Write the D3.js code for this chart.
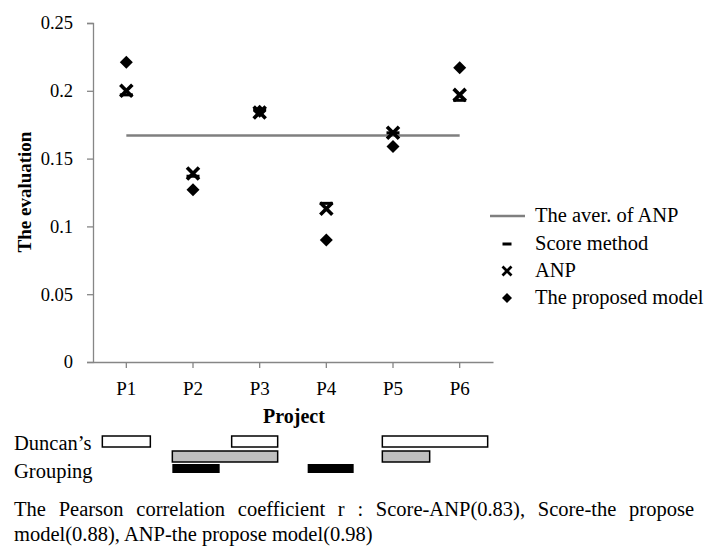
<!DOCTYPE html>
<html><head><meta charset="utf-8">
<script src="https://cdn.jsdelivr.net/npm/d3@7"></script>
<style>
body{margin:0;background:#fff}
text{font-family:"Liberation Serif","Times New Roman",serif;fill:#000}
</style></head>
<body><svg id="c" width="704" height="546"></svg>
<script>
const categories = ["P1","P2","P3","P4","P5","P6"];
const scoreMethod = [0.197, 0.137, 0.186, 0.117, 0.169, 0.193];
const anp = [0.200, 0.139, 0.184, 0.113, 0.169, 0.197];
const proposedModel = [0.221, 0.127, 0.185, 0.090, 0.159, 0.217];
const anpAverage = 0.167;
const yTicks = [0, 0.05, 0.1, 0.15, 0.2, 0.25];
const legendLabels = ["The aver. of ANP","Score method","ANP","The proposed model"];
// Duncan's grouping bars: [from, to] in category-index units
const groupWhite = [[-0.36,0.36],[1.58,2.27],[3.84,5.42]];
const groupGray = [[0.69,2.27],[3.84,4.55]];
const groupBlack = [[0.69,1.40],[2.72,3.41]];
const noteLine1 = "The Pearson correlation coefficient r : Score-ANP(0.83), Score-the propose";
const noteLine2 = "model(0.88), ANP-the propose model(0.98)";

const svg = d3.select("#c");
const L = 93, R = 493, T = 23, B = 362;
const x = d3.scaleBand().domain(categories).range([L, R]).padding(0);
const cx = c => x(c) + x.bandwidth()/2;
const y = d3.scaleLinear().domain([0, 0.25]).range([B, T]);
const axisColor = "#868686";

// y axis
const ya = svg.append("g").attr("transform",`translate(${L},0)`)
  .call(d3.axisLeft(y).tickValues(yTicks).tickSize(6).tickPadding(14).tickFormat(d => d3.format("")(+d.toFixed(2))));
ya.select(".domain").attr("stroke",axisColor).attr("stroke-width",1.3);
ya.selectAll(".tick line").attr("stroke",axisColor).attr("stroke-width",1.3);
ya.selectAll(".tick text").style("font-size","18.5px").style("font-family","Liberation Serif").attr("fill","#000");

// x axis
const xa = svg.append("g").attr("transform",`translate(0,${B})`)
  .call(d3.axisBottom(x).tickSize(6).tickSizeOuter(0).tickPadding(14));
xa.select(".domain").attr("stroke",axisColor).attr("stroke-width",1.3);
xa.selectAll(".tick line").attr("stroke",axisColor).attr("stroke-width",1.3);
xa.selectAll(".tick text").style("font-size","19px").style("font-family","Liberation Serif").attr("fill","#000");

// titles
svg.append("text").attr("x",294).attr("y",423).attr("text-anchor","middle")
  .style("font-size","20px").style("font-weight","bold").text("Project");
svg.append("text").attr("transform","translate(31,192) rotate(-90)").attr("text-anchor","middle")
  .style("font-size","19px").style("font-weight","bold").text("The evaluation");

// average line
svg.append("line").attr("x1",cx(categories[0])).attr("x2",cx(categories[5]))
  .attr("y1",y(anpAverage)).attr("y2",y(anpAverage)).attr("stroke","#7f7f7f").attr("stroke-width",2.5);

function dash(g, px, py, w){ g.append("rect").attr("x",px-w/2).attr("y",py-1.5).attr("width",w).attr("height",3).attr("fill","#000"); }
function cross(g, px, py, s){ const h=s/2; g.append("path").attr("d",`M${px-h},${py-h}L${px+h},${py+h}M${px-h},${py+h}L${px+h},${py-h}`).attr("stroke","#000").attr("stroke-width",s*0.3).attr("stroke-linecap","butt"); }
function diamond(g, px, py, s){ const h=s/2; g.append("path").attr("d",`M${px},${py-h}L${px+h},${py}L${px},${py+h}L${px-h},${py}Z`).attr("fill","#000"); }

const pts = svg.append("g");
categories.forEach((c,i)=>{
  dash(pts, cx(c), y(scoreMethod[i]), 13);
  cross(pts, cx(c), y(anp[i]), 12);
  diamond(pts, cx(c), y(proposedModel[i]), 13);
});

// legend
const lg = svg.append("g");
const lx = 507, ly = [216,244,271,298];
lg.append("line").attr("x1",490).attr("x2",525).attr("y1",ly[0]).attr("y2",ly[0]).attr("stroke","#7f7f7f").attr("stroke-width",2.5);
dash(lg, lx, ly[1], 9);
cross(lg, lx, ly[2], 9);
diamond(lg, lx, ly[3], 10);
legendLabels.forEach((t,i)=>{
  lg.append("text").attr("x",535).attr("y",ly[i]+6).style("font-size","20.5px").text(t);
});

// Duncan's grouping
const gi = d3.scaleLinear().domain([0,5]).range([cx(categories[0]), cx(categories[5])]);
svg.append("text").attr("x",14).attr("y",450).style("font-size","20.5px").text("Duncan\u2019s");
svg.append("text").attr("x",14).attr("y",478).style("font-size","20.5px").text("Grouping");
const rows = [
  {data:groupWhite, y0:436, h:11, fill:"#fff", stroke:"#000"},
  {data:groupGray, y0:451, h:11, fill:"#bfbfbf", stroke:"#000"},
  {data:groupBlack, y0:464, h:9, fill:"#000", stroke:"none"}
];
rows.forEach(r=>{
  svg.append("g").selectAll("rect").data(r.data).join("rect")
    .attr("x",d=>gi(d[0])).attr("width",d=>gi(d[1])-gi(d[0]))
    .attr("y",r.y0).attr("height",r.h).attr("fill",r.fill)
    .attr("stroke",r.stroke).attr("stroke-width",1.5);
});

// note (justified first line)
const n1 = svg.append("text").attr("x",14).attr("y",516).style("font-size","20.5px").text(noteLine1);
const natural = n1.node().getComputedTextLength();
const spaces = (noteLine1.match(/ /g)||[]).length;
n1.style("word-spacing", Math.max(0,(694-14-natural)/spaces)+"px");
svg.append("text").attr("x",14).attr("y",541).style("font-size","20.5px").text(noteLine2);
</script></body></html>
